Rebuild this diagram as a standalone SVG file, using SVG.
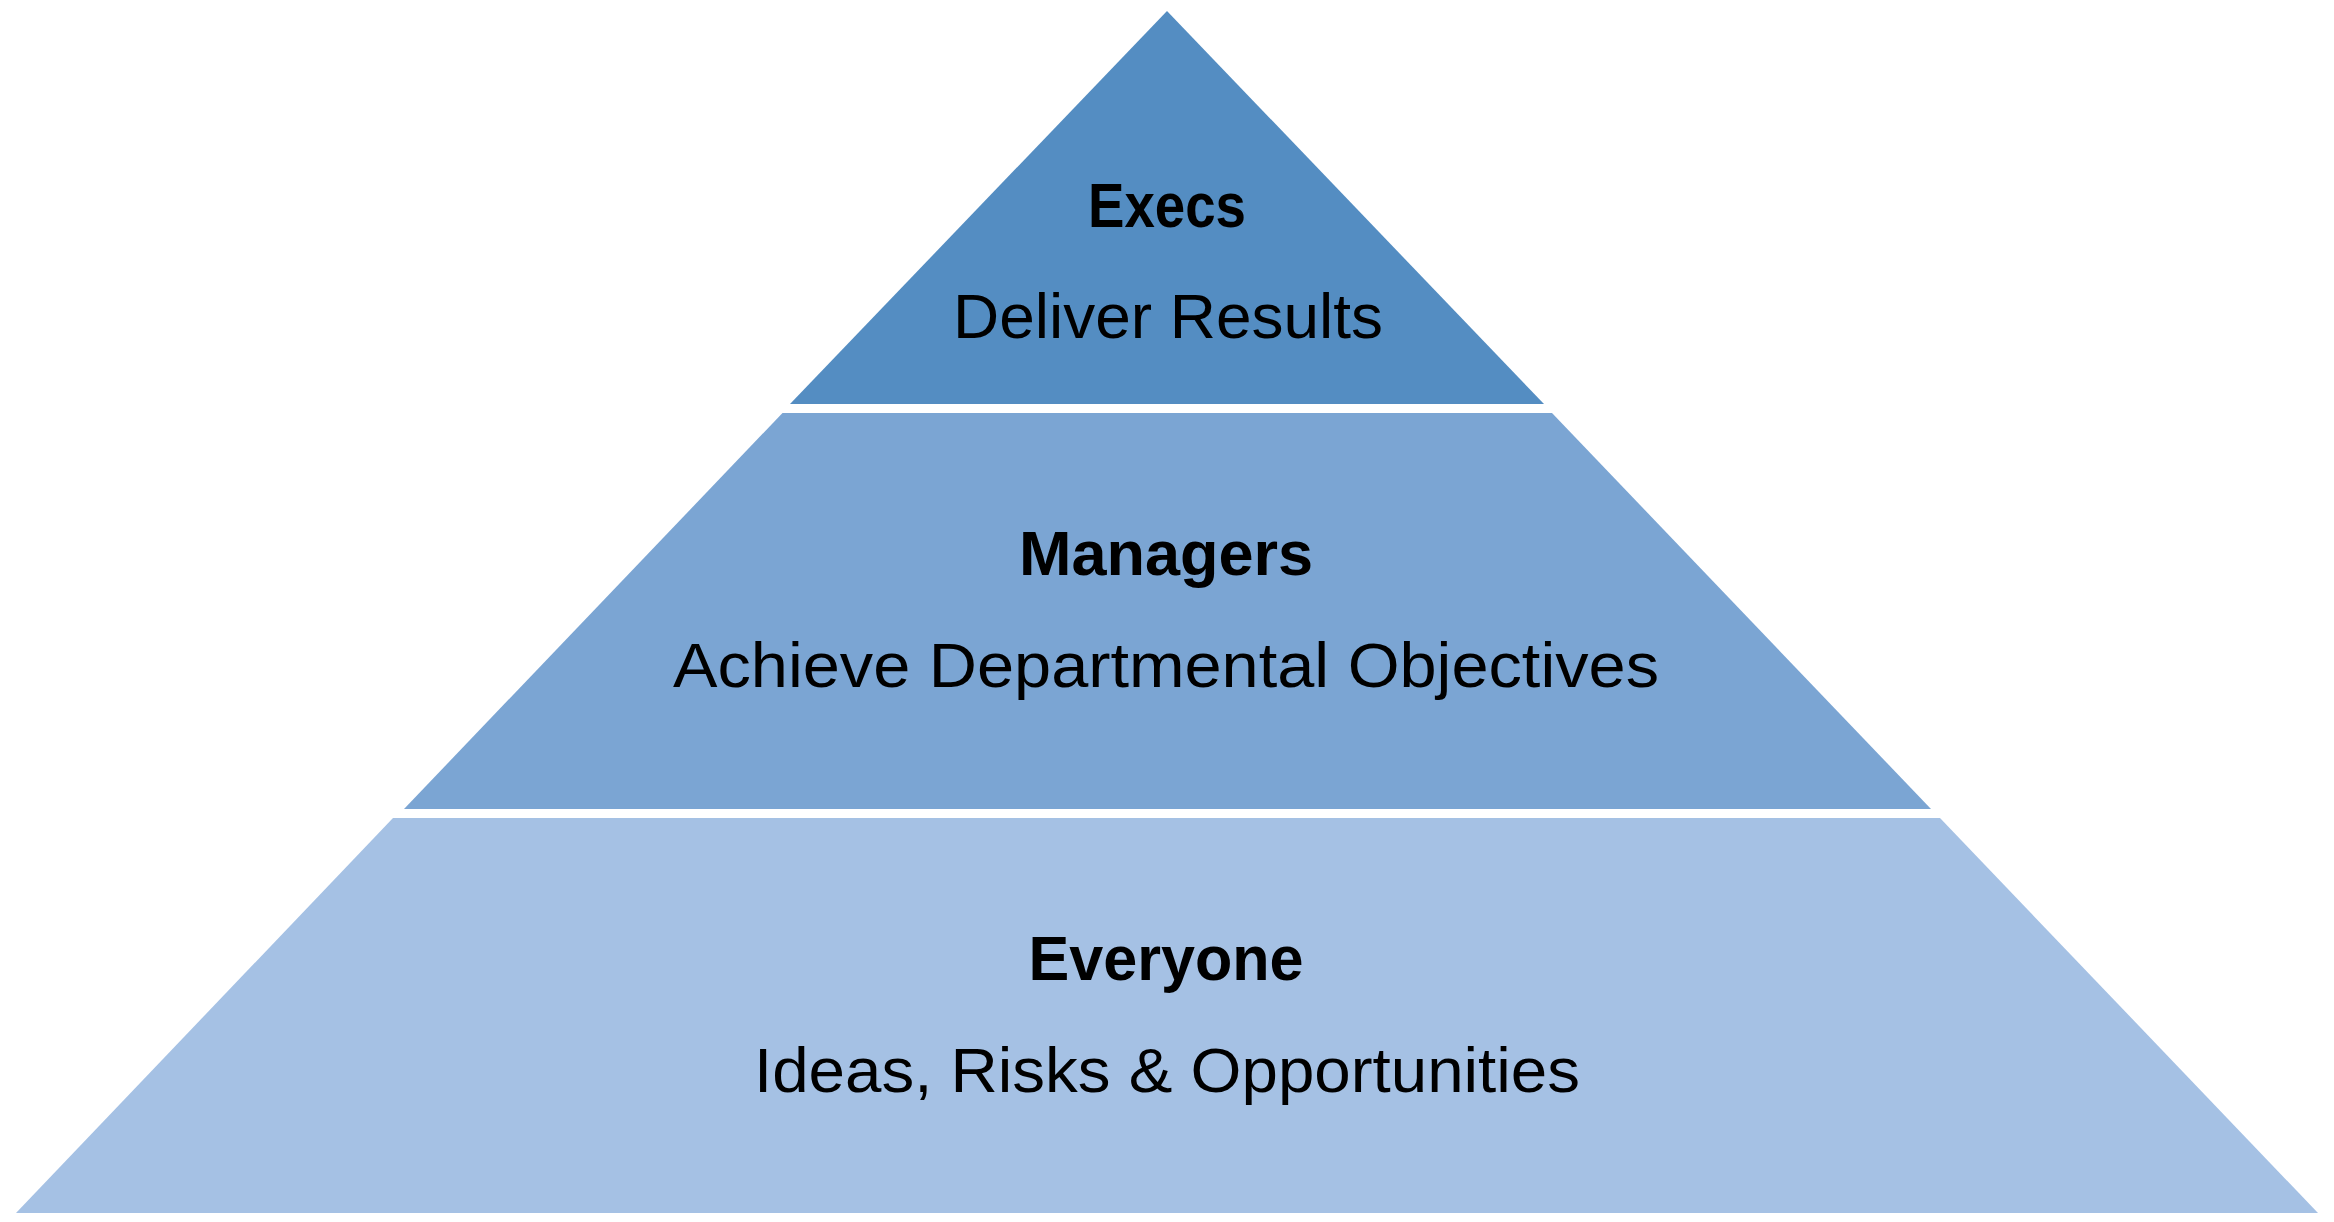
<svg xmlns="http://www.w3.org/2000/svg" width="2334" height="1222" viewBox="0 0 2334 1222">
<style>
.t{font-family:"Liberation Sans",Arial,sans-serif;font-size:63px;fill:#000;text-anchor:middle}
.b{font-weight:bold}
</style>
<rect width="2334" height="1222" fill="#ffffff"/>
<g id="tier-execs">
<polygon points="1167,11 1544,404 790,404" fill="#548DC2"/>
<text class="t b" x="1167" y="227" textLength="158" lengthAdjust="spacingAndGlyphs">Execs</text>
<text class="t" x="1168" y="338" textLength="430" lengthAdjust="spacingAndGlyphs">Deliver Results</text>
</g>
<g id="tier-managers">
<polygon points="782.5,413 1552,413 1931,809 404,809" fill="#7BA5D3"/>
<text class="t b" x="1166" y="575" textLength="294" lengthAdjust="spacingAndGlyphs">Managers</text>
<text class="t" x="1166" y="687" textLength="986" lengthAdjust="spacingAndGlyphs">Achieve Departmental Objectives</text>
</g>
<g id="tier-everyone">
<polygon points="393,818 1940,818 2318,1213 16,1213" fill="#A5C1E4"/>
<text class="t b" x="1166" y="980" textLength="275" lengthAdjust="spacingAndGlyphs">Everyone</text>
<text class="t" x="1167" y="1092" textLength="826" lengthAdjust="spacingAndGlyphs">Ideas, Risks &amp; Opportunities</text>
</g>
<g id="connectors"/>
</svg>
